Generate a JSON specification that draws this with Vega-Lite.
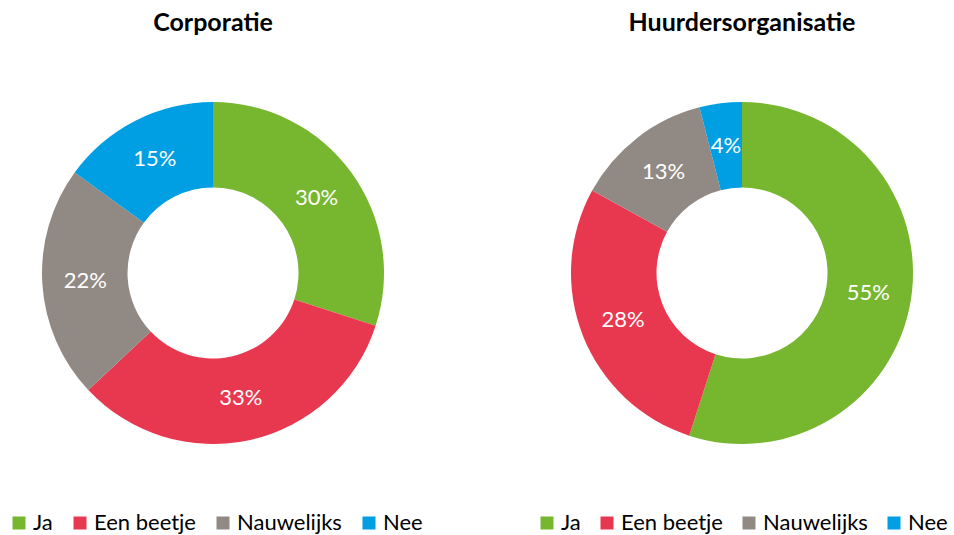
{
  "$schema": "https://vega.github.io/schema/vega-lite/v6.json",
  "padding": {"top": 11, "left": 5, "right": 0, "bottom": 0},
  "background": "white",
  "spacing": 113,
  "bounds": "flush",
  "config": {"view": {"stroke": null}, "font": "Lato"},
  "resolve": {"scale": {"color": "independent"}, "legend": {"color": "independent"}},
  "hconcat": [
    {
      "title": {"text": "Corporatie", "fontSize": 25, "font": "Lato", "fontWeight": "bold", "color": "#000000", "offset": 7},
      "width": 416,
      "height": 460,
      "data": {"values": [
        {"idx": 1, "cat": "Ja", "value": 30, "label": "30%"},
        {"idx": 2, "cat": "Een beetje", "value": 33, "label": "33%"},
        {"idx": 3, "cat": "Nauwelijks", "value": 22, "label": "22%"},
        {"idx": 4, "cat": "Nee", "value": 15, "label": "15%"}
      ]},
      "encoding": {
        "theta": {"field": "value", "type": "quantitative", "stack": true},
        "order": {"field": "idx", "type": "quantitative"},
        "color": {
          "field": "cat", "type": "nominal",
          "scale": {"domain": ["Ja", "Een beetje", "Nauwelijks", "Nee"], "range": ["#76B72F", "#E8384F", "#918A84", "#009FE3"]},
          "legend": {"orient": "none", "legendX": 3, "legendY": 469, "direction": "horizontal", "title": null, "symbolType": "square", "symbolSize": 169, "symbolStrokeWidth": 0, "labelFontSize": 22, "labelFont": "Lato", "labelColor": "#000000", "columnPadding": 16, "labelOffset": 3}
        }
      },
      "layer": [
        {"mark": {"type": "arc", "outerRadius": 171, "innerRadius": 85.5}},
        {"mark": {"type": "text", "radius": 128, "fontSize": 22, "font": "Lato"},
         "encoding": {"text": {"field": "label", "type": "nominal"}, "color": {"value": "white"}}}
      ]
    },
    {
      "title": {"text": "Huurdersorganisatie", "fontSize": 25, "font": "Lato", "fontWeight": "bold", "color": "#000000", "offset": 7},
      "width": 416,
      "height": 460,
      "data": {"values": [
        {"idx": 1, "cat": "Ja", "value": 55, "label": "55%"},
        {"idx": 2, "cat": "Een beetje", "value": 28, "label": "28%"},
        {"idx": 3, "cat": "Nauwelijks", "value": 13, "label": "13%"},
        {"idx": 4, "cat": "Nee", "value": 4, "label": "4%"}
      ]},
      "encoding": {
        "theta": {"field": "value", "type": "quantitative", "stack": true},
        "order": {"field": "idx", "type": "quantitative"},
        "color": {
          "field": "cat", "type": "nominal",
          "scale": {"domain": ["Ja", "Een beetje", "Nauwelijks", "Nee"], "range": ["#76B72F", "#E8384F", "#918A84", "#009FE3"]},
          "legend": {"orient": "none", "legendX": 2, "legendY": 469, "direction": "horizontal", "title": null, "symbolType": "square", "symbolSize": 169, "symbolStrokeWidth": 0, "labelFontSize": 22, "labelFont": "Lato", "labelColor": "#000000", "columnPadding": 15, "labelOffset": 3}
        }
      },
      "layer": [
        {"mark": {"type": "arc", "outerRadius": 171, "innerRadius": 85.5}},
        {"mark": {"type": "text", "radius": 128, "fontSize": 22, "font": "Lato"},
         "encoding": {"text": {"field": "label", "type": "nominal"}, "color": {"value": "white"}}}
      ]
    }
  ]
}
